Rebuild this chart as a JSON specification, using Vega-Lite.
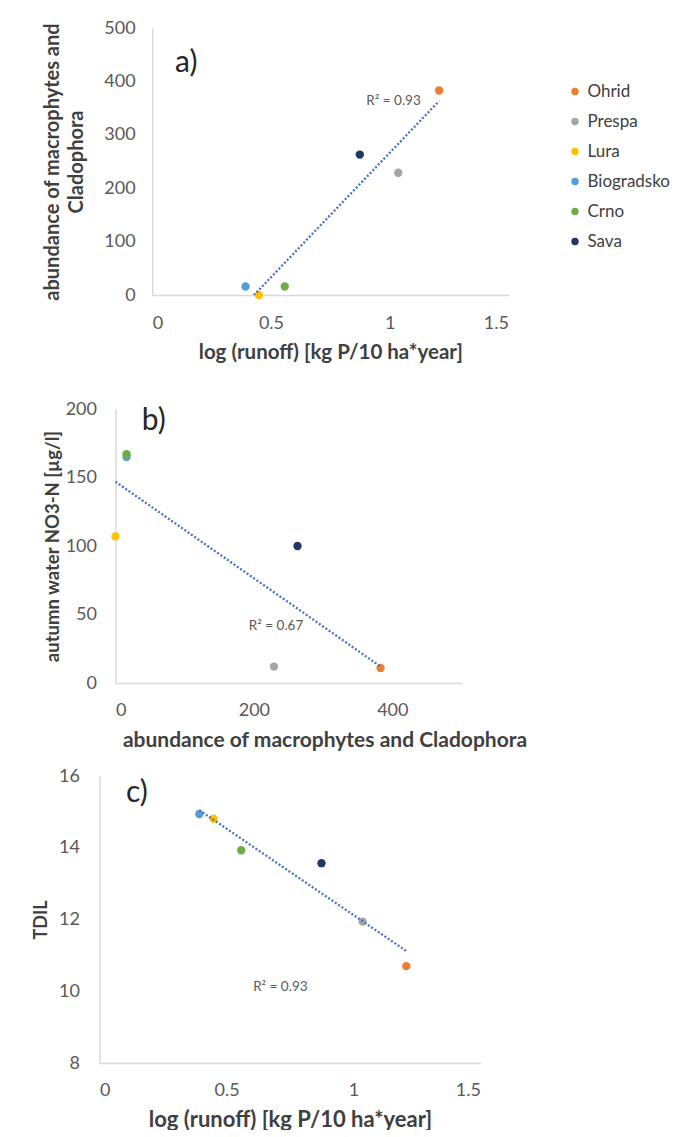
{
  "$schema": "https://vega.github.io/schema/vega-lite/v6.json",
  "padding": {"left": 32.5, "top": 19, "right": 0, "bottom": 0},
  "background": "white",
  "config": {
    "font": "Lato",
    "view": {"stroke": null},
    "axis": {
      "grid": false,
      "ticks": false,
      "domainColor": "#d9d9d9",
      "domainWidth": 1.5,
      "labelColor": "#595959",
      "labelFont": "Lato",
      "labelFontSize": 18,
      "titleColor": "#404040",
      "titleFont": "Lato",
      "titleFontWeight": "bold"
    },
    "legend": {
      "orient": "none",
      "legendX": 467,
      "legendY": 55,
      "padding": 0,
      "rowPadding": 12,
      "labelFont": "Lato",
      "labelFontSize": 17,
      "labelColor": "#404040",
      "labelOffset": 4,
      "symbolType": "circle",
      "symbolSize": 55,
      "symbolStrokeWidth": 0
    }
  },
  "datasets": {
    "lakes": [
      {"lake": "Ohrid", "runoff": 1.208, "abundance": 383, "no3": 11, "tdil": 10.70},
      {"lake": "Prespa", "runoff": 1.036, "abundance": 229, "no3": 12, "tdil": 11.94},
      {"lake": "Lura", "runoff": 0.449, "abundance": 0, "no3": 107, "tdil": 14.81},
      {"lake": "Biogradsko", "runoff": 0.393, "abundance": 16, "no3": 165, "tdil": 14.94},
      {"lake": "Crno", "runoff": 0.558, "abundance": 16, "no3": 167, "tdil": 13.93},
      {"lake": "Sava", "runoff": 0.874, "abundance": 263, "no3": 100, "tdil": 13.57}
    ]
  },
  "columns": 1,
  "spacing": 37,
  "concat": [
    {
      "width": 409,
      "height": 267,
      "data": {"name": "lakes"},
      "layer": [
        {
          "mark": {"type": "circle", "size": 70, "opacity": 1},
          "encoding": {
            "x": {"field": "runoff", "type": "quantitative", "scale": {"domain": [0, 1.5], "nice": false, "range": [52.7, 409]},
                  "axis": {"values": [0, 0.5, 1, 1.5], "format": "~g", "labelPadding": 19, "title": "log (runoff) [kg P/10 ha*year]", "titleFontSize": 20.5, "titlePadding": 10}},
            "y": {"field": "abundance", "type": "quantitative", "scale": {"domain": [0, 500], "nice": false},
                  "axis": {"values": [0, 100, 200, 300, 400, 500], "offset": -52.7, "labelPadding": 17, "title": ["abundance of macrophytes and", "Cladophora"], "titleFontSize": 20, "titleLineHeight": 24, "titlePadding": 17}},
            "color": {"field": "lake", "type": "nominal",
                      "scale": {"domain": ["Ohrid", "Prespa", "Lura", "Biogradsko", "Crno", "Sava"], "range": ["#ED7D31", "#A5A5A5", "#FFC000", "#5B9BD5", "#70AD47", "#203864"]},
                      "legend": {"title": null}}
          }
        },
        {
          "transform": [{"regression": "abundance", "on": "runoff"}],
          "mark": {"type": "line", "clip": true, "color": "#4472C4", "strokeWidth": 2.3, "strokeDash": [2, 2]},
          "encoding": {
            "x": {"field": "runoff", "type": "quantitative"},
            "y": {"field": "abundance", "type": "quantitative"}
          }
        },
        {
          "data": {"values": [{}]},
          "mark": {"type": "text", "text": "a)", "fontSize": 30, "color": "#262626", "align": "left", "baseline": "alphabetic"},
          "encoding": {"x": {"datum": 0.096}, "y": {"datum": 418}}
        },
        {
          "data": {"values": [{}]},
          "mark": {"type": "text", "text": "R² = 0.93", "fontSize": 13.5, "color": "#595959", "align": "center", "baseline": "middle"},
          "encoding": {"x": {"datum": 1.016}, "y": {"datum": 363}}
        }
      ]
    },
    {
      "columns": 1,
      "spacing": 17,
      "concat": [
        {
          "width": 362,
          "height": 274,
          "data": {"name": "lakes"},
          "layer": [
            {
              "mark": {"type": "circle", "size": 70, "opacity": 1},
              "encoding": {
                "x": {"field": "abundance", "type": "quantitative", "scale": {"domain": [0, 500], "nice": false, "range": [16, 362]},
                      "axis": {"values": [0, 200, 400], "labelPadding": 18, "title": "abundance of macrophytes and Cladophora", "titleFontSize": 21, "titlePadding": 10, "titleX": 225}},
                "y": {"field": "no3", "type": "quantitative", "scale": {"domain": [0, 200], "nice": false},
                      "axis": {"values": [0, 50, 100, 150, 200], "offset": -16, "labelPadding": 19, "title": "autumn water NO3-N [µg/l]", "titleFontSize": 18.5, "titlePadding": 3}},
                "color": {"field": "lake", "type": "nominal"}
              }
            },
            {
              "transform": [{"regression": "no3", "on": "abundance"}],
              "mark": {"type": "line", "clip": true, "color": "#4472C4", "strokeWidth": 2.3, "strokeDash": [2, 2]},
              "encoding": {
                "x": {"field": "abundance", "type": "quantitative"},
                "y": {"field": "no3", "type": "quantitative"}
              }
            },
            {
              "data": {"values": [{}]},
              "mark": {"type": "text", "text": "b)", "fontSize": 30, "color": "#262626", "align": "left", "baseline": "alphabetic"},
              "encoding": {"x": {"datum": 38}, "y": {"datum": 185}}
            },
            {
              "data": {"values": [{}]},
              "mark": {"type": "text", "text": "R² = 0.67", "fontSize": 13.5, "color": "#595959", "align": "center", "baseline": "middle"},
              "encoding": {"x": {"datum": 232}, "y": {"datum": 41.8}}
            }
          ]
        },
        {
          "width": 381,
          "height": 287,
          "data": {"name": "lakes"},
          "layer": [
            {
              "mark": {"type": "circle", "size": 70, "opacity": 1},
              "encoding": {
                "x": {"field": "runoff", "type": "quantitative", "scale": {"domain": [0, 1.5], "nice": false},
                      "axis": {"values": [0, 0.5, 1, 1.5], "format": "~g", "labelPadding": 18, "title": "log (runoff) [kg P/10 ha*year]", "titleFontSize": 22, "titlePadding": 10}},
                "y": {"field": "tdil", "type": "quantitative", "scale": {"domain": [8, 16], "nice": false, "zero": false},
                      "axis": {"values": [8, 10, 12, 14, 16], "labelPadding": 20, "title": "TDIL", "titleFontSize": 18, "titlePadding": 8}},
                "color": {"field": "lake", "type": "nominal"}
              }
            },
            {
              "transform": [{"regression": "tdil", "on": "runoff"}],
              "mark": {"type": "line", "clip": true, "color": "#4472C4", "strokeWidth": 2.3, "strokeDash": [2, 2]},
              "encoding": {
                "x": {"field": "runoff", "type": "quantitative"},
                "y": {"field": "tdil", "type": "quantitative"}
              }
            },
            {
              "data": {"values": [{}]},
              "mark": {"type": "text", "text": "c)", "fontSize": 30, "color": "#262626", "align": "left", "baseline": "alphabetic"},
              "encoding": {"x": {"datum": 0.104}, "y": {"datum": 15.27}}
            },
            {
              "data": {"values": [{}]},
              "mark": {"type": "text", "text": "R² = 0.93", "fontSize": 13.5, "color": "#595959", "align": "center", "baseline": "middle"},
              "encoding": {"x": {"datum": 0.712}, "y": {"datum": 10.12}}
            }
          ]
        }
      ]
    }
  ]
}
